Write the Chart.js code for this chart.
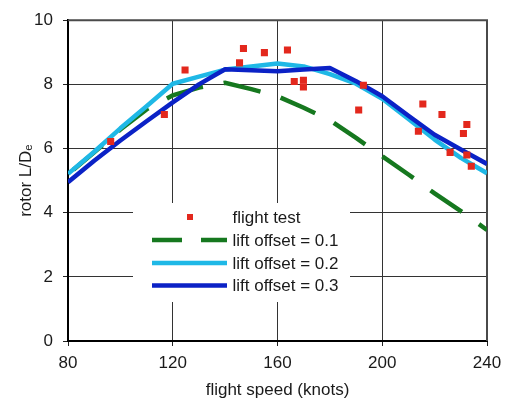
<!DOCTYPE html>
<html>
<head>
<meta charset="utf-8">
<script src="https://cdn.jsdelivr.net/npm/chart.js@4/dist/chart.umd.min.js"></script>
<style>
  html, body { margin: 0; padding: 0; background: #ffffff; }
  #wrap { width: 515px; height: 409px; }
</style>
</head>
<body>
<div id="wrap"><canvas id="chart" width="515" height="409"></canvas></div>
<script>
// Axis ticks
const speedTicks = [80, 120, 160, 200, 240];
const ratioTicks = [0, 2, 4, 6, 8, 10];

// Flight test measurements: speed (knots) and rotor L/De
const testSpeed = [96.3, 116.8, 124.7, 145.5, 147.0, 155.0, 163.8, 166.4, 169.9, 169.9,
                   192.8, 191.0, 215.5, 213.8, 222.8, 225.9, 231.0, 232.3, 232.3, 234.0];
const testRatio = [6.22, 7.06, 8.45, 8.67, 9.12, 8.99, 9.07, 8.09, 8.13, 7.92,
                   7.97, 7.20, 7.39, 6.54, 7.06, 5.88, 6.47, 6.75, 5.80, 5.45];

// Predicted rotor L/De for three lift offsets
const modelSpeed = [80, 90, 100, 110, 120, 130, 140, 150, 160, 170, 180, 190, 200, 210, 220, 230, 240];
const liftOffset01 = [5.20, 5.88, 6.59, 7.22, 7.66, 7.90, 8.05, 7.85, 7.63, 7.27, 6.88, 6.33, 5.76, 5.19, 4.60, 4.05, 3.46];
const liftOffset02 = [5.21, 5.90, 6.63, 7.32, 8.02, 8.24, 8.46, 8.56, 8.65, 8.56, 8.32, 8.02, 7.55, 6.92, 6.28, 5.71, 5.23];
const liftOffset03 = [4.95, 5.62, 6.25, 6.85, 7.44, 8.00, 8.47, 8.44, 8.41, 8.46, 8.51, 8.10, 7.63, 7.02, 6.43, 5.97, 5.52];

const seriesLabels = ['flight test', 'lift offset = 0.1', 'lift offset = 0.2', 'lift offset = 0.3'];

const FONT = '"Liberation Sans", Arial, sans-serif';
const TEXT = '#1a1a1a';
const RED = '#e3281d';
const GREEN = '#16781f';
const CYAN = '#1fb8e6';
const BLUE = '#0b22c6';

const pairs = (xs, ys) => xs.map((x, i) => ({ x: x, y: ys[i] }));

// Closing frame on the top and right of the plot area
const framePlugin = {
  id: 'frame',
  beforeDatasetsDraw(chart) {
    const { ctx, chartArea: a } = chart;
    ctx.save();
    ctx.strokeStyle = '#4a4a4a';
    ctx.lineWidth = 2;
    ctx.beginPath();
    ctx.moveTo(a.left, a.top);
    ctx.lineTo(a.right, a.top);
    ctx.lineTo(a.right, a.bottom);
    ctx.stroke();
    ctx.restore();
  }
};

// Legend drawn inside the plot on a white panel
const insideLegend = {
  id: 'insideLegend',
  beforeDatasetsDraw(chart) {
    const { ctx } = chart;
    const box = { x: 133, y: 203, w: 217, h: 99 };
    ctx.save();
    ctx.fillStyle = '#ffffff';
    ctx.fillRect(box.x, box.y, box.w, box.h);
    const rows = [217, 240, 263, 285.5];
    const x0 = 152, x1 = 227, tx = 232.5;
    chart.data.datasets.forEach((ds, i) => {
      const y = rows[i];
      if (ds.showLine === false) {
        ctx.fillStyle = ds.backgroundColor;
        ctx.fillRect(187, y - 3, 6, 6);
      } else {
        ctx.strokeStyle = ds.borderColor;
        ctx.lineWidth = ds.borderWidth;
        ctx.setLineDash(ds.borderDash ? [30, 19] : []);
        ctx.beginPath();
        ctx.moveTo(x0, y);
        ctx.lineTo(x1, y);
        ctx.stroke();
        ctx.setLineDash([]);
      }
      ctx.fillStyle = TEXT;
      ctx.font = '17px ' + FONT;
      ctx.textBaseline = 'middle';
      ctx.textAlign = 'left';
      ctx.fillText(ds.label, tx, y + 1);
    });
    ctx.restore();
  }
};

new Chart(document.getElementById('chart'), {
  type: 'line',
  data: {
    datasets: [
      {
        label: seriesLabels[0],
        data: pairs(testSpeed, testRatio),
        showLine: false,
        pointStyle: 'rect',
        pointRadius: 5,
        pointBorderWidth: 0,
        backgroundColor: RED,
        borderColor: RED,
        order: 1
      },
      {
        label: seriesLabels[1],
        data: pairs(modelSpeed, liftOffset01),
        borderColor: GREEN,
        borderWidth: 4.5,
        borderDash: [38, 21],
        borderDashOffset: 52,
        pointRadius: 0,
        tension: 0,
        order: 4
      },
      {
        label: seriesLabels[2],
        data: pairs(modelSpeed, liftOffset02),
        borderColor: CYAN,
        borderWidth: 4.5,
        pointRadius: 0,
        tension: 0,
        borderJoinStyle: 'round',
        order: 3
      },
      {
        label: seriesLabels[3],
        data: pairs(modelSpeed, liftOffset03),
        borderColor: BLUE,
        borderWidth: 4.5,
        pointRadius: 0,
        tension: 0,
        borderJoinStyle: 'round',
        order: 2
      }
    ]
  },
  options: {
    responsive: false,
    animation: false,
    devicePixelRatio: 1,
    layout: { padding: { top: 16, right: 28, bottom: 0, left: 0 } },
    plugins: {
      legend: { display: false },
      tooltip: { enabled: false }
    },
    scales: {
      x: {
        type: 'linear',
        min: speedTicks[0],
        max: speedTicks[speedTicks.length - 1],
        afterBuildTicks(scale) { scale.ticks = speedTicks.map(v => ({ value: v })); },
        afterFit(scale) { scale.height = 68; },
        ticks: { font: { family: FONT, size: 17 }, color: TEXT, padding: 7, maxRotation: 0 },
        grid: { color: '#333333', lineWidth: 1, tickLength: 5, tickColor: '#222222' },
        border: { display: true, color: '#000000', width: 2 },
        title: {
          display: true,
          text: 'flight speed (knots)',
          font: { family: FONT, size: 17 },
          color: TEXT,
          padding: { top: 0, bottom: 8 }
        }
      },
      y: {
        type: 'linear',
        min: ratioTicks[0],
        max: ratioTicks[ratioTicks.length - 1],
        afterBuildTicks(scale) { scale.ticks = ratioTicks.map(v => ({ value: v })); },
        afterFit(scale) { scale.width = 68; },
        ticks: { font: { family: FONT, size: 17 }, color: TEXT, padding: 10 },
        grid: { color: '#333333', lineWidth: 1, tickLength: 5, tickColor: '#222222' },
        border: { display: true, color: '#000000', width: 2 },
        title: {
          display: true,
          text: 'rotor L/D\u2091',
          font: { family: FONT, size: 17 },
          color: TEXT,
          padding: { top: 16, bottom: 0 }
        }
      }
    }
  },
  plugins: [framePlugin, insideLegend]
});
</script>
</body>
</html>
